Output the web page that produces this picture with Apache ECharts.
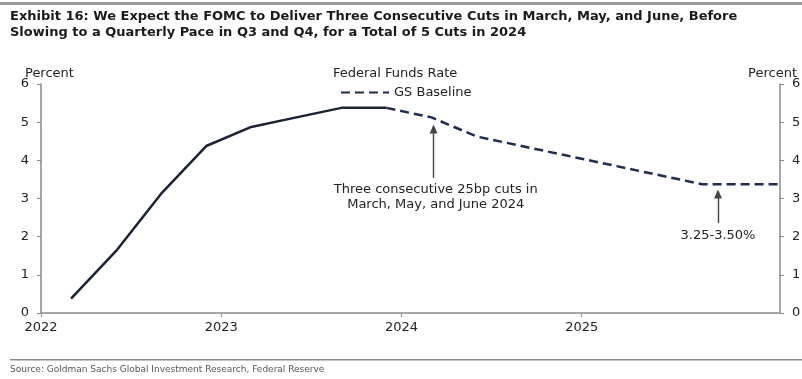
<!DOCTYPE html>
<html><head><meta charset="utf-8">
<script src="https://cdn.jsdelivr.net/npm/echarts@6/dist/echarts.min.js"></script>
<style>html,body{margin:0;padding:0;background:#fff}#c{width:802px;height:379px}</style>
</head><body><div id="c"></div>
<script>
// ---- data ----
const actualDates = ['2022-03','2022-06','2022-09','2022-12','2023-03','2023-06','2023-09','2023-12'];
const actualRates = [0.375, 1.625, 3.125, 4.375, 4.875, 5.125, 5.375, 5.375];
const baselineDates = ['2023-12','2024-03','2024-06','2024-09','2024-12','2025-03','2025-06','2025-09','2025-12','2026-03'];
const baselineRates = [5.375, 5.125, 4.625, 4.375, 4.125, 3.875, 3.625, 3.375, 3.375, 3.375];
const yearTicks = [2022, 2023, 2024, 2025];
const yMin = 0, yMax = 6, yStep = 1;
const xMin = 2022, xMax = 2026.1;
const titleLines = ['Exhibit 16: We Expect the FOMC to Deliver Three Consecutive Cuts in March, May, and June, Before',
                    'Slowing to a Quarterly Pace in Q3 and Q4, for a Total of 5 Cuts in 2024'];
const sourceText = 'Source: Goldman Sachs Global Investment Research, Federal Reserve';
const annotations = [
  {text: 'Three consecutive 25bp cuts in\nMarch, May, and June 2024', at: [2024.19, 3.03], arrowFrom: [2024.178, 3.54], arrowTo: [2024.178, 4.82]},
  {text: '3.25-3.50%', at: [2025.756, 2.04], arrowFrom: [2025.756, 2.36], arrowTo: [2025.756, 3.12]}
];

function toYear(s){ const p = s.split('-').map(Number); return p[0] + (p[1]-1)/12; }
const actualData = actualDates.map((d,i)=>[toYear(d), actualRates[i]]);
const baselineData = baselineDates.map((d,i)=>[toYear(d), baselineRates[i]]);

const FONT = 'DejaVu Sans';
const chart = echarts.init(document.getElementById('c'), null, {renderer:'canvas'});
const yAxisCommon = {
  type:'value', min:yMin, max:yMax, interval:yStep,
  axisLine:{show:true, lineStyle:{color:'#8a8a8a', width:1.5}},
  axisTick:{show:true, length:4, lineStyle:{color:'#8a8a8a'}},
  axisLabel:{color:'#222', fontFamily:FONT, fontSize:13, margin:12},
  splitLine:{show:false}
};
chart.setOption({
  animation:false,
  backgroundColor:'#fff',
  grid:{left:41, right:22, top:84, bottom:66, containLabel:false, outerBoundsMode:'none'},
  xAxis:{
    type:'value', min:xMin, max:xMax, interval:1,
    axisLine:{show:true, onZero:false, lineStyle:{color:'#8a8a8a', width:1.5}},
    axisTick:{show:true, length:4, customValues:yearTicks, lineStyle:{color:'#8a8a8a'}},
    axisLabel:{color:'#222', fontFamily:FONT, fontSize:13, margin:8, customValues:yearTicks,
      formatter:v=> String(Math.round(v))},
    splitLine:{show:false}
  },
  yAxis:[Object.assign({position:'left'}, yAxisCommon), Object.assign({position:'right'}, yAxisCommon)],
  legend:{
    data:['GS Baseline'], left:340, top:86, itemWidth:48, itemHeight:10, itemGap:5,
    itemStyle:{opacity:0},
    textStyle:{color:'#222', fontFamily:FONT, fontSize:13}, padding:0
  },
  graphic:[
    {type:'rect', shape:{x:0, y:2, width:802, height:3}, style:{fill:'#9a9a9a'}},
    {type:'text', left:10, top:9, style:{text:titleLines.join('\n'), font:'bold 13px "DejaVu Sans"', fill:'#1a1a1a', lineHeight:16}},
    {type:'text', left:25, top:67, style:{text:'Percent', font:'13px "DejaVu Sans"', fill:'#222'}},
    {type:'text', right:5, top:67, style:{text:'Percent', font:'13px "DejaVu Sans"', fill:'#222'}},
    {type:'text', left:333, top:67, style:{text:'Federal Funds Rate', font:'13px "DejaVu Sans"', fill:'#222'}},
    {type:'rect', shape:{x:10, y:359, width:792, height:1.5}, style:{fill:'#8a8a8a'}},
    {type:'text', left:10, top:365, style:{text:sourceText, font:'9px "DejaVu Sans"', fill:'#555'}}
  ],
  series:[
    {name:'Federal Funds Rate', type:'line', data:actualData, yAxisIndex:0, symbol:'none',
     lineStyle:{color:'#1b2233', width:2.5}, itemStyle:{color:'#1b2233'}},
    {name:'GS Baseline', type:'line', data:baselineData, yAxisIndex:0, symbol:'none', clip:true,
     lineStyle:{color:'#1f2c4c', width:2.5, type:[9,5]}, itemStyle:{color:'#1f2c4c'},
     markLine:{silent:true, symbol:['none','triangle'], symbolSize:[8,9], animation:false,
       lineStyle:{color:'#444', type:'solid', width:1.4}, itemStyle:{color:'#333'}, label:{show:false}, emphasis:{disabled:true},
       data: annotations.map(a=>[{coord:a.arrowFrom},{coord:a.arrowTo}])},
     markPoint:{silent:true, symbol:'rect', symbolSize:1, itemStyle:{color:'rgba(0,0,0,0)'},
       label:{show:true, position:'inside', color:'#222', fontFamily:FONT, fontSize:13, lineHeight:15, formatter:p=>p.name},
       data: annotations.map(a=>({name:a.text, coord:a.at}))}
    }
  ]
});
</script></body></html>
